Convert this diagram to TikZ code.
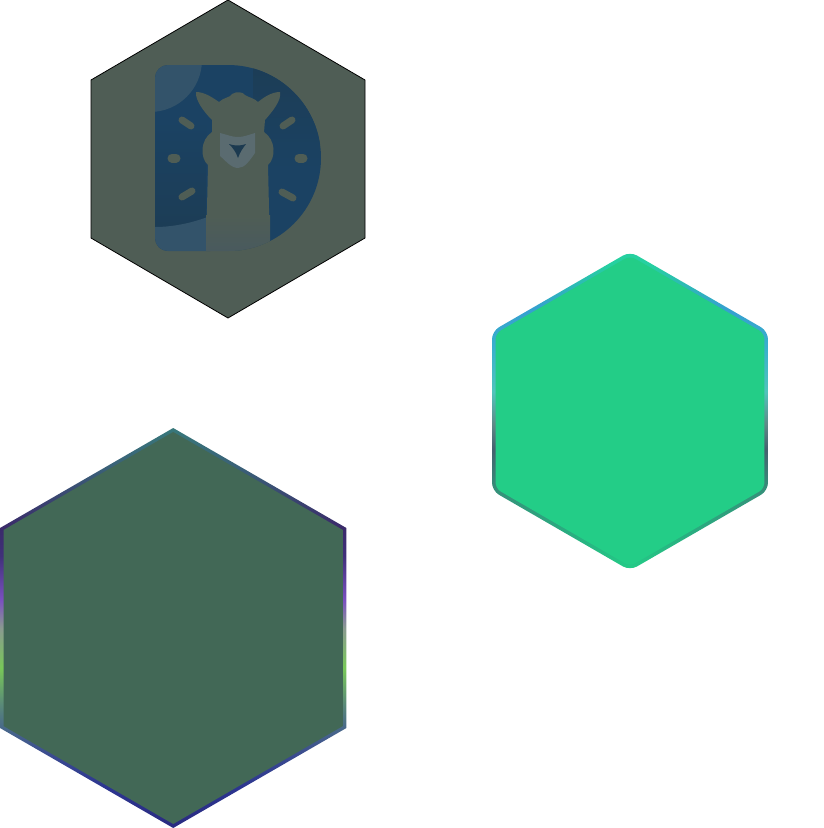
\documentclass[tikz,border=0pt]{standalone}
\usepackage{tikz}

\definecolor{slatefill}{HTML}{4F5D55}
\definecolor{logoblue}{HTML}{1B4263}
\definecolor{logodark}{HTML}{1C3D56}
\definecolor{logolight}{HTML}{33536A}
\definecolor{neckshade}{HTML}{495A5E}
\definecolor{facepatch}{HTML}{5A6B70}
\definecolor{nosedark}{HTML}{1C3A50}
\definecolor{mintfill}{HTML}{23CD87}
\definecolor{pinefill}{HTML}{426856}

\definecolor{mint1}{HTML}{2AAC80}
\definecolor{mint2}{HTML}{35917A}
\definecolor{mint3}{HTML}{46606F}
\definecolor{mint4}{HTML}{5F8A88}
\definecolor{mint5}{HTML}{50C4BB}
\definecolor{mint6}{HTML}{39B0CC}
\definecolor{mint7}{HTML}{35A0D0}
\definecolor{mint8}{HTML}{26D0A0}

\definecolor{pine1}{HTML}{2A2A80}
\definecolor{pine2}{HTML}{2C3590}
\definecolor{pine3}{HTML}{3A4A90}
\definecolor{pine4}{HTML}{48688A}
\definecolor{pine5}{HTML}{5A8A78}
\definecolor{pine6}{HTML}{78C858}
\definecolor{pine7}{HTML}{8A9A90}
\definecolor{pine8}{HTML}{7A50C0}
\definecolor{pine9}{HTML}{40307A}
\definecolor{pine10}{HTML}{3A2A6A}
\definecolor{pine11}{HTML}{3A6078}
\definecolor{pine12}{HTML}{38787A}

\pgfdeclareverticalshading{mintedge}{100bp}{
  color(0bp)=(mintfill); color(25bp)=(mintfill);
  color(31bp)=(mint1); color(37.5bp)=(mint2);
  color(44bp)=(mint3); color(48bp)=(mint4);
  color(53bp)=(mint5); color(60bp)=(mint6);
  color(66bp)=(mint7); color(73bp)=(mint8);
  color(75bp)=(mint8); color(100bp)=(mint8)}
\pgfdeclareverticalshading{pineedge}{100bp}{
  color(0bp)=(pine1); color(25bp)=(pine1);
  color(30bp)=(pine2); color(34bp)=(pine3);
  color(37.5bp)=(pine4); color(40.5bp)=(pine5);
  color(45bp)=(pine6); color(50bp)=(pine7);
  color(53.5bp)=(pine8); color(59bp)=(pine9);
  color(62.5bp)=(pine10); color(70bp)=(pine11);
  color(75bp)=(pine12); color(100bp)=(pine12)}

\begin{document}
\begin{tikzpicture}[x=1pt, y=-1pt]
\tikzstyle{hexplain} = [draw=black, line width=0.8pt, fill=slatefill]
\tikzstyle{whisker} = [draw=slatefill, line width=7pt, line cap=round]
\tikzstyle{mintrim} = [shading=mintedge, rounded corners=8pt]
\tikzstyle{pinerim} = [shading=pineedge]

\useasboundingbox (0,0) rectangle (824,828);

%draw hexagons
%%logo hexagon
\path [hexplain] (228,0) -- (365,80) -- (365,238) -- (228,318) -- (91,238) -- (91,80) -- cycle;

\begin{scope}
\clip (168,65) -- (228,65) arc (-90:90:93) -- (168,251) arc (90:180:13) -- (155,78) arc (180:270:13) -- cycle;
\fill [logoblue] (155,65) rectangle (321,251);
\shade [top color=logodark, bottom color=logoblue] (253,65) rectangle (321,170);
\shade [top color=logoblue, bottom color=logodark] (155,120) rectangle (206,226);
\fill [logolight] (150,60) circle (52);
\fill [logolight] (155,227) .. controls (175,227) and (195,222) .. (210,216) -- (210,251) -- (155,251) -- cycle;
%%llama
\fill [slatefill] (206,252) -- (208,165) .. controls (200,158) and (200,140) .. (212,132)
  -- (212,120) .. controls (204,112) and (195,100) .. (196,92) .. controls (205,92) and (213,98) .. (219,102)
  .. controls (224,97) and (230,98) .. (232,94) .. controls (237,91) and (243,92) .. (245,95)
  .. controls (250,98) and (254,98) .. (258,102) .. controls (263,98) and (271,92) .. (280,92)
  .. controls (282,100) and (272,112) .. (265,120) -- (264,132) .. controls (276,140) and (276,158) .. (268,165)
  -- (270,252) -- cycle;
\shade [top color=slatefill, bottom color=neckshade] (206,215) -- (270,215) -- (270,252) -- (206,252) -- cycle;
\fill [facepatch] (220,133) .. controls (228,135) and (232,137) .. (238,137) .. controls (244,137) and (248,135) .. (255,133)
  -- (255,153) .. controls (250,160) and (245,168) .. (238,168) .. controls (231,168) and (225,160) .. (220,156) -- cycle;
\fill [nosedark] (229,144) .. controls (234,146) and (241,146) .. (246,144) .. controls (243,148) and (240,152) .. (238,158)
  .. controls (236,152) and (233,148) .. (229,144) -- cycle;
\end{scope}

\draw [whisker] (182,120) -- (191,126);
\draw [whisker] (283,126) -- (292,120);
\draw [whisker, line width=9pt] (172,158) -- (176,158);
\draw [whisker, line width=9pt] (299,158) -- (303,158);
\draw [whisker] (182,197) -- (192,191);
\draw [whisker] (282,192) -- (293,198);

%%mint hexagon
\shade [mintrim] (630,251.5) -- (768,331.25) -- (768,490.75) -- (630,570.5) -- (492,490.75) -- (492,331.25) -- cycle;
\fill [mintfill, rounded corners=6pt] (630,255.8) -- (764.4,333.4) -- (764.4,488.6) -- (630,566.2) -- (495.6,488.6) -- (495.6,333.4) -- cycle;

%%pine hexagon
\shade [pinerim] (173.2,428) -- (346.4,528) -- (346.4,728) -- (173.2,828) -- (0,728) -- (0,528) -- cycle;
\fill [pinefill] (173.2,432) -- (342.9,530) -- (342.9,726) -- (173.2,824) -- (3.5,726) -- (3.5,530) -- cycle;

\end{tikzpicture}
\end{document}
